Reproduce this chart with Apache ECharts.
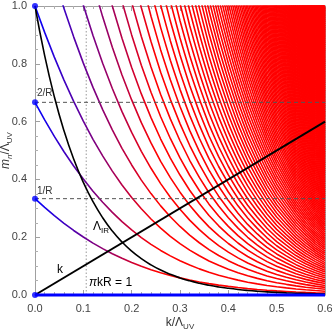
<!DOCTYPE html>
<html>
<head>
<meta charset="utf-8">
<script src="https://cdn.jsdelivr.net/npm/echarts@6/dist/echarts.min.js"></script>
<style>
  html, body { margin: 0; padding: 0; background: #fff; }
  #chart { width: 332px; height: 331px; }
</style>
</head>
<body>
<div id="chart"></div>
<script>
// k / Λ_UV samples
const kValues = [0, 0.02, 0.04, 0.06, 0.08, 0.10, 0.12, 0.14, 0.16, 0.18, 0.20,
  0.22, 0.24, 0.26, 0.28, 0.30, 0.32, 0.34, 0.36, 0.38, 0.40,
  0.42, 0.44, 0.46, 0.48, 0.50, 0.52, 0.54, 0.56, 0.58, 0.60];
// first KK mode m_1 / Λ_UV (starts at 1/R); mode n sits at n times it
const firstMode = [0.3333, 0.3029, 0.2744, 0.2479, 0.2233, 0.2006, 0.1796, 0.1604, 0.1429, 0.1269, 0.1125,
  0.0994, 0.0877, 0.0771, 0.0677, 0.0593, 0.0518, 0.0452, 0.0393, 0.0342, 0.0297,
  0.0257, 0.0222, 0.0192, 0.0165, 0.0142, 0.0123, 0.0105, 0.0090, 0.0077, 0.0066];
// Λ_IR / Λ_UV
const lambdaIR = [1.0, 0.8282, 0.6859, 0.5681, 0.4705, 0.3897, 0.3227, 0.2673, 0.2214, 0.1833, 0.1518,
  0.1258, 0.1042, 0.0863, 0.0714, 0.0592, 0.0490, 0.0406, 0.0336, 0.0278, 0.0231,
  0.0191, 0.0158, 0.0131, 0.0109, 0.0090, 0.0074, 0.0062, 0.0051, 0.0042, 0.0035];
// mode numbers drawn (1..150)
const modeNumbers = Array.from({ length: 150 }, (_, i) => i + 1);
// masses at k = 0: 0, 1/R, 2/R, 3/R
const flatMasses = [0, 1 / 3, 2 / 3, 1];
const refLevels = [1 / 3, 2 / 3]; // dashed 1/R, 2/R
const kOneOverPiR = 0.1061; // πkR = 1
const kLine = [[0, 0], [0.6, 0.6]];

const chart = echarts.init(document.getElementById('chart'));

const font = 'Liberation Sans, Arial, sans-serif';
const subRich = {
  a: { fontSize: 12, lineHeight: 16, verticalAlign: 'middle', color: '#333', fontFamily: font },
  i: { fontSize: 12, lineHeight: 16, verticalAlign: 'middle', color: '#333', fontStyle: 'italic', fontFamily: font },
  s: { fontSize: 8, lineHeight: 9, verticalAlign: 'bottom', color: '#333', fontFamily: font },
  si: { fontSize: 8, lineHeight: 9, verticalAlign: 'bottom', color: '#333', fontStyle: 'italic', fontFamily: font }
};

function frameAxis(extra) {
  return Object.assign({
    type: 'value',
    axisLine: { show: true, onZero: false, lineStyle: { color: '#a0a0a0', width: 1 } },
    axisTick: { show: true, inside: true, length: 5, lineStyle: { color: '#a0a0a0' } },
    minorTick: { show: true, length: 3, lineStyle: { color: '#b0b0b0' } },
    splitLine: { show: false },
    axisLabel: { color: '#444', fontSize: 11, fontFamily: font, formatter: v => v.toFixed(1) }
  }, extra);
}

const series = [];

// KK tower, colour runs blue -> red along k
modeNumbers.forEach(n => {
  series.push({
    type: 'line',
    data: kValues.map((k, i) => [k, n * firstMode[i]]),
    showSymbol: false,
    silent: true,
    lineStyle: { width: 1.6 },
    z: 2
  });
});

series.push({
  type: 'line',
  data: [[kOneOverPiR, 0], [kOneOverPiR, 1]],
  showSymbol: false, silent: true,
  lineStyle: { color: '#b0b0b0', width: 1.3, type: [1.5, 2] },
  z: 1
});

refLevels.forEach(y => {
  series.push({
    type: 'line',
    data: [[0, y], [0.6, y]],
    showSymbol: false, silent: true,
    lineStyle: { color: '#555', width: 1, type: [4, 3] },
    z: 4
  });
});

series.push({
  type: 'line',
  data: kValues.map((k, i) => [k, lambdaIR[i]]),
  showSymbol: false, silent: true, smooth: true,
  lineStyle: { color: '#000', width: 1.6 },
  z: 5
});

series.push({
  type: 'line',
  data: kLine,
  showSymbol: false, silent: true,
  lineStyle: { color: '#000', width: 2 },
  z: 5
});

// zero mode
series.push({
  type: 'line',
  data: [[0, 0], [0.6, 0]],
  showSymbol: false, silent: true, clip: false,
  lineStyle: { color: '#0000ff', width: 3 },
  z: 6
});

series.push({
  type: 'scatter',
  data: flatMasses.map(m => [0, m]),
  symbolSize: 6, clip: false, silent: true,
  itemStyle: { color: '#0000ff' },
  z: 7
});

const option = {
  animation: false,
  backgroundColor: '#fff',
  grid: { left: 35, right: 7, top: 6, bottom: 36, outerBoundsMode: 'none', containLabel: false },
  visualMap: {
    type: 'continuous', show: false, dimension: 0,
    min: 0, max: 0.75,
    seriesIndex: modeNumbers.map((n, i) => i),
    inRange: { color: ['#0000ff', '#ff0000', '#ff0000', '#ff0000'] }
  },
  xAxis: [
    frameAxis({
      min: 0, max: 0.6, interval: 0.1, position: 'bottom',
      minorTick: { show: true, splitNumber: 5, length: 3, lineStyle: { color: '#b0b0b0' } },
      name: '{a|k/Λ}{s|UV}', nameLocation: 'middle', nameGap: 20, nameMoveOverlap: false,
      nameTextStyle: { rich: subRich }
    }),
    frameAxis({
      min: 0, max: 0.6, interval: 0.1, position: 'top',
      minorTick: { show: true, splitNumber: 5, length: 3, lineStyle: { color: '#b0b0b0' } },
      axisLabel: { show: false }
    })
  ],
  yAxis: [
    frameAxis({
      min: 0, max: 1, interval: 0.2, position: 'left',
      minorTick: { show: true, splitNumber: 4, length: 3, lineStyle: { color: '#b0b0b0' } },
      name: '{i|m}{si|n}{a|/Λ}{s|UV}', nameLocation: 'middle', nameGap: 21, nameMoveOverlap: false,
      nameTextStyle: { rich: subRich }
    }),
    frameAxis({
      min: 0, max: 1, interval: 0.2, position: 'right',
      minorTick: { show: true, splitNumber: 4, length: 3, lineStyle: { color: '#b0b0b0' } },
      axisLabel: { show: false }
    })
  ],
  series: series,
  graphic: [
    { type: 'text', left: 37, top: 88, z: 100, style: { text: '2/R', font: '10px ' + font, fill: '#333' } },
    { type: 'text', left: 37, top: 186, z: 100, style: { text: '1/R', font: '10px ' + font, fill: '#333' } },
    { type: 'text', left: 93, top: 221, z: 100, style: { text: '{a|Λ}{s|IR}', rich: subRich } },
    { type: 'text', left: 57, top: 264, z: 100, style: { text: '{a|k}', rich: subRich } },
    { type: 'text', left: 89, top: 277, z: 100, style: { text: '{i|π}{a|kR = 1}', rich: subRich } }
  ]
};

chart.setOption(option);
</script>
</body>
</html>
